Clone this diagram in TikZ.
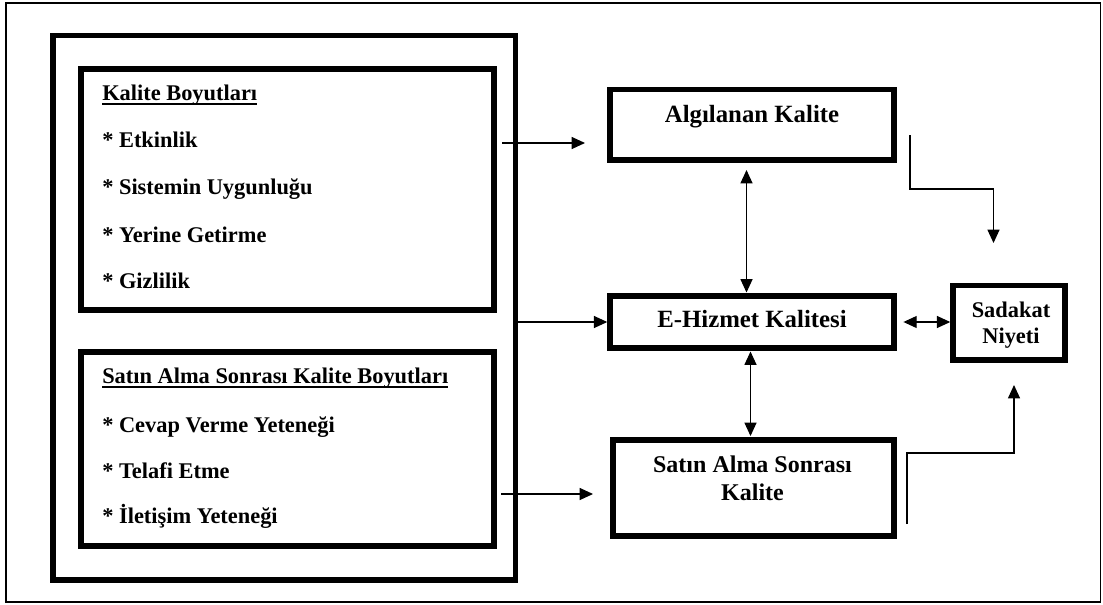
\documentclass[tikz,border=0pt]{standalone}
\usepackage{fontspec}
\setmainfont{Liberation Serif}
\usetikzlibrary{arrows.meta,fit}
\newcommand\myul[1]{\setbox0\hbox{#1}\rlap{\rule[-3.75pt]{\wd0}{1.5pt}}\box0}
\begin{document}
\begin{tikzpicture}[x=0.75pt,y=-0.75pt,
  thickbox/.style={draw, line width=4.1pt, inner sep=0pt},
  thinframe/.style={draw, line width=1.1pt, inner sep=0pt},
  txt/.style={anchor=base west, inner sep=0pt, font=\bfseries\fontsize{16.8pt}{20pt}\selectfont},
  ctxt/.style={anchor=base, inner sep=0pt, font=\bfseries\fontsize{18.6pt}{22pt}\selectfont},
  stxt/.style={anchor=base, inner sep=0pt, font=\bfseries\fontsize{16.8pt}{20pt}\selectfont},
  arr/.style={line width=0.85pt, -{Triangle[length=10pt,width=9pt]}},
  darr/.style={line width=0.85pt, {Triangle[length=10pt,width=9pt]}-{Triangle[length=10pt,width=9pt]}}]
\useasboundingbox (0,0) rectangle (1103,604);
% frames and boxes
\node[thinframe, fit={(6,3) (1100.5,602)}] (frame) {};
\node[thickbox, fit={(53,35.5) (515.5,580)}] (big) {};
\node[thickbox, fit={(81,69) (494,310)}] (box1) {};
\node[thickbox, fit={(81,352) (494,546)}] (box2) {};
\node[thickbox, fit={(610,89.5) (894,160)}] (alg) {};
\node[thickbox, fit={(610,296) (894,348)}] (ehiz) {};
\node[thickbox, fit={(953,285.5) (1065,360)}] (sad) {};
\node[thickbox, fit={(613,440) (894,536)}] (satin) {};
% left texts
\node[txt] (h1) at (102,100) {\myul{Kalite Boyutları}};
\node[txt] (i1) at (102,147) {* Etkinlik};
\node[txt] (i2) at (102,194) {* Sistemin Uygunluğu};
\node[txt] (i3) at (102,242) {* Yerine Getirme};
\node[txt] (i4) at (102,288) {* Gizlilik};
\node[txt] (h2) at (102,383) {\myul{Satın Alma Sonrası Kalite Boyutları}};
\node[txt] (j1) at (102,432) {* Cevap Verme Yeteneği};
\node[txt] (j2) at (102,478) {* Telafi Etme};
\node[txt] (j3) at (102,523) {* İletişim Yeteneği};
% right texts
\node[ctxt] (talg) at (752,122) {Algılanan Kalite};
\node[ctxt] (tehiz) at (752,327) {E-Hizmet Kalitesi};
\node[ctxt, font=\bfseries\fontsize{18pt}{22pt}\selectfont] (tsat1) at (752.5,472) {Satın Alma Sonrası};
\node[ctxt, font=\bfseries\fontsize{18pt}{22pt}\selectfont] (tsat2) at (752.5,500) {Kalite};
\node[stxt] (tsad1) at (1011,317) {Sadakat};
\node[stxt] (tsad2) at (1011,343) {Niyeti};
% connector end points
\coordinate (a1s) at (502,143);
\coordinate (a1e) at (585,143);
\coordinate (a3s) at (501,494);
\coordinate (a3e) at (593,494);
\coordinate (v1a) at (746.5,170);
\coordinate (v1b) at (746.5,292.5);
\coordinate (v2a) at (750.5,351.5);
\coordinate (v2b) at (750.5,436);
\coordinate (e1s) at (910,135);
\coordinate (e1m) at (993.5,189);
\coordinate (e1t) at (993.5,243);
\coordinate (e2s) at (907,524);
\coordinate (e2m) at (1014,453);
\coordinate (e2t) at (1014,385);
% connectors
\draw[arr] (a1s) -- (a1e);
\draw[arr] (big.east |- ehiz.west) -- (ehiz.west);
\draw[arr] (a3s) -- (a3e);
\draw[darr] (v1a) -- (v1b);
\draw[darr] (v2a) -- (v2b);
\draw[darr, shorten <=5pt] (ehiz.east) -- (ehiz.east -| sad.west);
\draw[arr] (e1s) |- (e1m) -- (e1t);
\draw[arr] (e2s) |- (e2m) -- (e2t);
\end{tikzpicture}
\end{document}
